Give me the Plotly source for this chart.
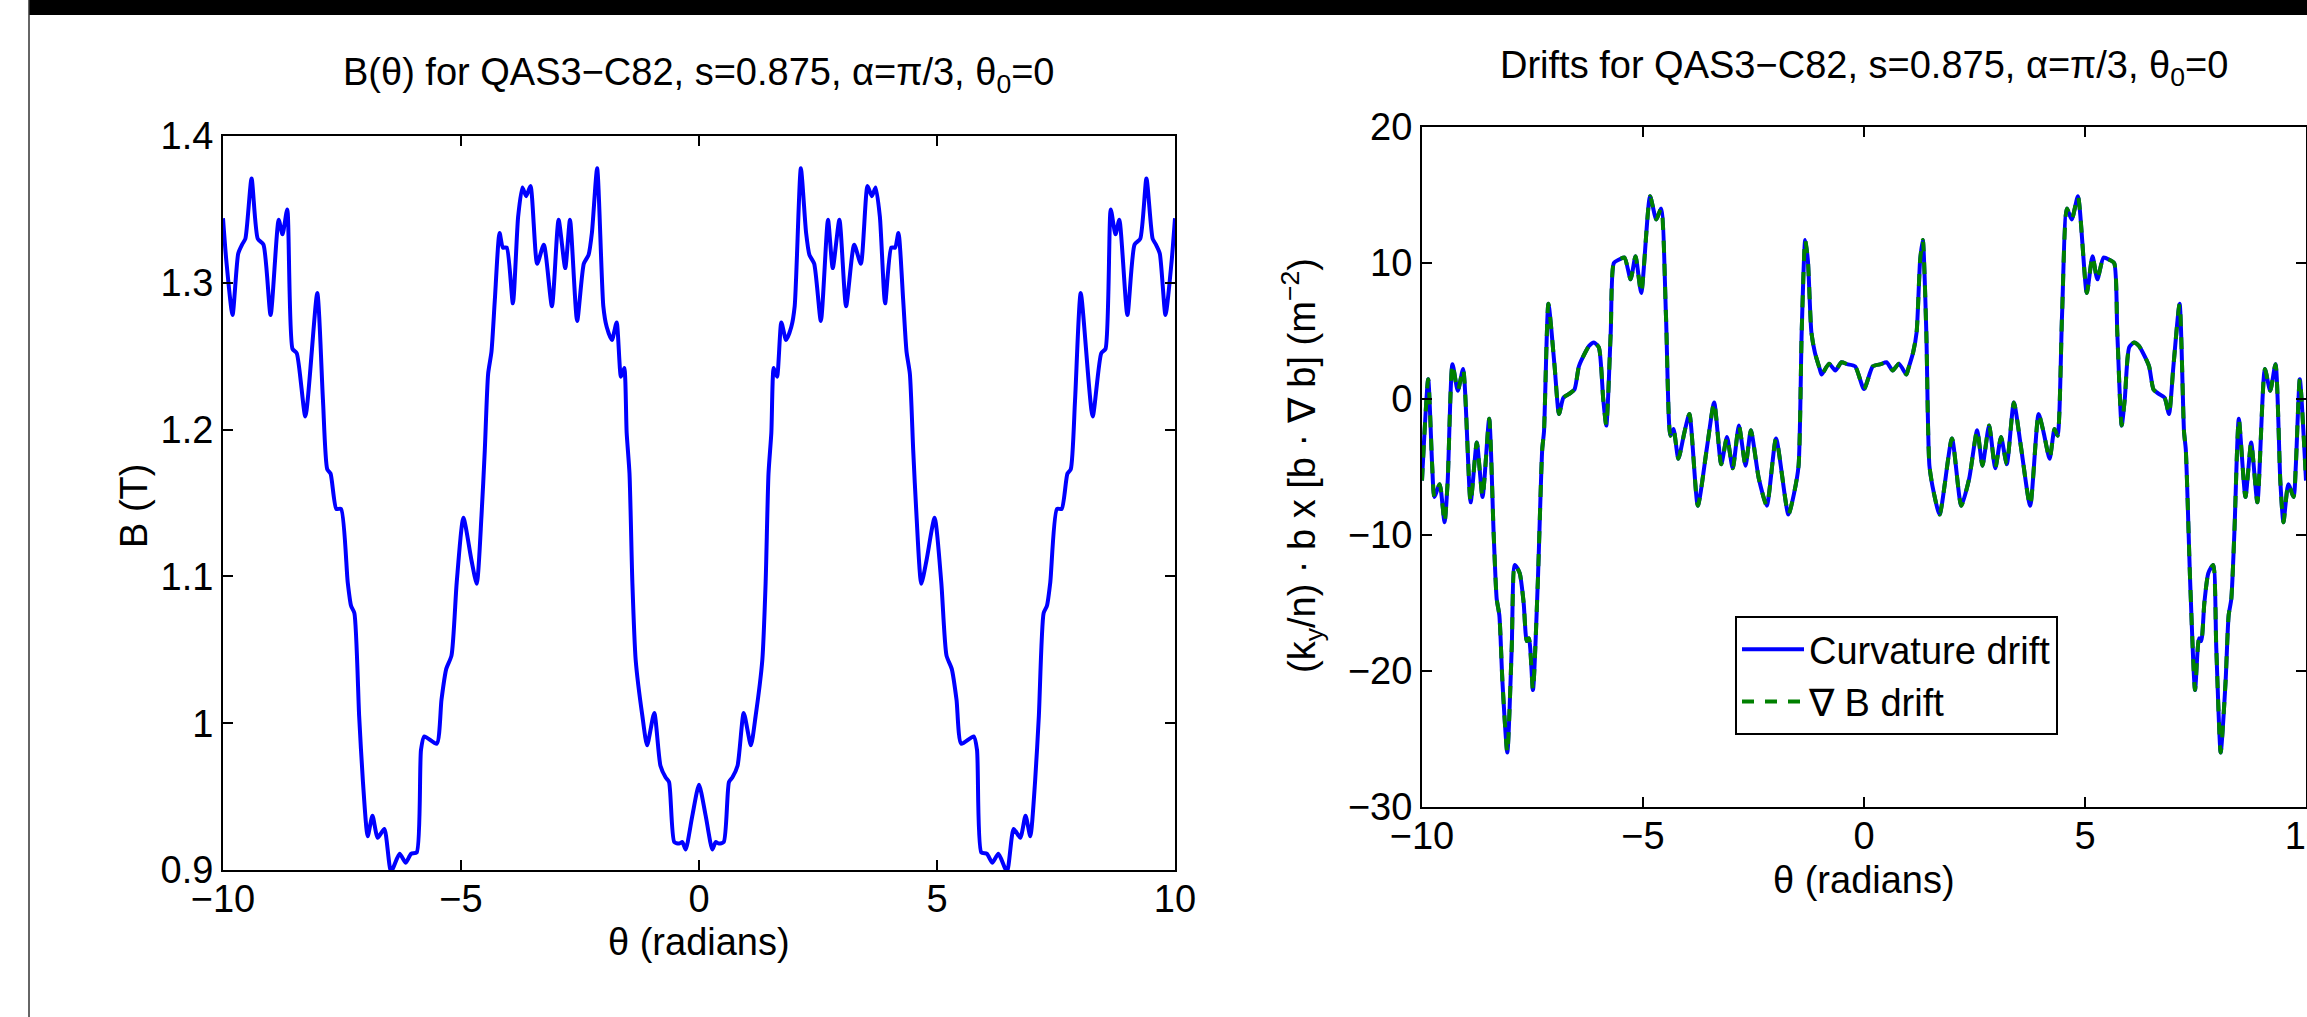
import plotly.graph_objects as go

W, H = 2307, 1017
FONT = "Liberation Sans, Arial, Helvetica, sans-serif"

# ---------------- data: B(theta) ----------------
theta_b = [-10.00, -9.93, -9.80, -9.68, -9.60, -9.53, -9.40, -9.27, -9.15, -9.00,
           -8.83, -8.75, -8.65, -8.54, -8.45, -8.27, -8.02, -7.90, -7.81, -7.74,
           -7.62, -7.52, -7.38, -7.31, -7.24, -7.14, -7.06, -6.96, -6.86, -6.75,
           -6.61, -6.47, -6.29, -6.16, -6.05, -5.93, -5.84, -5.77, -5.51, -5.41,
           -5.31, -5.20, -5.09, -4.95, -4.78, -4.67, -4.57, -4.50, -4.43, -4.36,
           -4.29, -4.19, -4.12, -4.04, -3.91, -3.80, -3.71, -3.63, -3.54, -3.40,
           -3.26, -3.09, -2.95, -2.81, -2.71, -2.56, -2.42, -2.32, -2.25, -2.14,
           -2.01, -1.94, -1.83, -1.73, -1.64, -1.57, -1.52, -1.46, -1.40, -1.33,
           -1.19, -1.09, -0.94, -0.81, -0.70, -0.63, -0.52, -0.42, -0.35, -0.28,
           -0.14, 0.00,
           0.14, 0.28, 0.35, 0.42, 0.52, 0.63, 0.70, 0.81, 0.94, 1.09,
           1.19, 1.33, 1.40, 1.46, 1.52, 1.57, 1.64, 1.73, 1.83, 1.94,
           2.01, 2.14, 2.25, 2.32, 2.42, 2.56, 2.71, 2.81, 2.95, 3.09,
           3.26, 3.40, 3.54, 3.63, 3.71, 3.80, 3.91, 4.04, 4.12, 4.19,
           4.29, 4.36, 4.43, 4.50, 4.57, 4.67, 4.78, 4.95, 5.09, 5.20,
           5.31, 5.41, 5.51, 5.77, 5.84, 5.93, 6.05, 6.16, 6.29, 6.47,
           6.61, 6.75, 6.86, 6.96, 7.06, 7.14, 7.24, 7.31, 7.38, 7.52,
           7.62, 7.74, 7.81, 7.90, 8.02, 8.27, 8.45, 8.54, 8.65, 8.75,
           8.83, 9.00, 9.15, 9.27, 9.40, 9.53, 9.60, 9.68, 9.80, 9.93, 10.00]

b_field = [1.344, 1.315, 1.278, 1.320, 1.326, 1.330, 1.371, 1.330, 1.326, 1.278,
           1.343, 1.333, 1.350, 1.255, 1.252, 1.209, 1.293, 1.220, 1.173, 1.170,
           1.146, 1.146, 1.096, 1.080, 1.075, 1.005, 0.960, 0.923, 0.937, 0.922,
           0.928, 0.899, 0.911, 0.905, 0.911, 0.912, 0.982, 0.991, 0.986, 1.016,
           1.037, 1.046, 1.096, 1.140, 1.111, 1.095, 1.141, 1.186, 1.238, 1.253,
           1.288, 1.334, 1.324, 1.324, 1.286, 1.345, 1.365, 1.359, 1.366, 1.313,
           1.326, 1.284, 1.343, 1.310, 1.343, 1.274, 1.313, 1.319, 1.334, 1.378,
           1.284, 1.270, 1.261, 1.273, 1.236, 1.242, 1.198, 1.170, 1.096, 1.043,
           1.005, 0.985, 1.007, 0.971, 0.963, 0.960, 0.919, 0.918, 0.919, 0.914,
           0.937, 0.958,
           0.937, 0.914, 0.919, 0.918, 0.919, 0.960, 0.963, 0.971, 1.007, 0.985,
           1.005, 1.043, 1.096, 1.170, 1.198, 1.242, 1.236, 1.273, 1.261, 1.270,
           1.284, 1.378, 1.334, 1.319, 1.313, 1.274, 1.343, 1.310, 1.343, 1.284,
           1.326, 1.313, 1.366, 1.359, 1.365, 1.345, 1.286, 1.324, 1.324, 1.334,
           1.288, 1.253, 1.238, 1.186, 1.141, 1.095, 1.111, 1.140, 1.096, 1.046,
           1.037, 1.016, 0.986, 0.991, 0.982, 0.912, 0.911, 0.905, 0.911, 0.899,
           0.928, 0.922, 0.937, 0.923, 0.960, 1.005, 1.075, 1.080, 1.096, 1.146,
           1.146, 1.170, 1.173, 1.220, 1.293, 1.209, 1.252, 1.255, 1.350, 1.333,
           1.343, 1.278, 1.326, 1.330, 1.371, 1.330, 1.326, 1.320, 1.278, 1.315, 1.344]

# ---------------- data: drifts ----------------
theta_d = [-10.00, -9.86, -9.77, -9.72, -9.60, -9.49, -9.42, -9.31, -9.19, -9.07,
           -8.90, -8.76, -8.63, -8.48, -8.38, -8.31, -8.25, -8.18, -8.07, -7.97,
           -7.90, -7.79, -7.70, -7.63, -7.58, -7.49, -7.38, -7.28, -7.24, -7.14,
           -7.00, -6.90, -6.80, -6.66, -6.55, -6.45, -6.31, -6.22, -6.11, -6.00,
           -5.90, -5.83, -5.73, -5.66, -5.55, -5.42, -5.28, -5.17, -5.04, -4.84,
           -4.70, -4.59, -4.48, -4.38, -4.31, -4.20, -4.06, -3.95, -3.76, -3.55,
           -3.39, -3.23, -3.10, -2.97, -2.83, -2.68, -2.56, -2.38, -2.20, -1.99,
           -1.71, -1.58, -1.48, -1.41, -1.33, -1.27, -1.19, -1.11, -1.00, -0.96,
           -0.79, -0.65, -0.51, -0.38, -0.20, 0.00,
           0.20, 0.38, 0.51, 0.65, 0.79, 0.96, 1.00, 1.11, 1.19, 1.27,
           1.33, 1.41, 1.48, 1.58, 1.71, 1.99, 2.20, 2.38, 2.56, 2.68,
           2.83, 2.97, 3.10, 3.23, 3.39, 3.55, 3.76, 3.95, 4.06, 4.20,
           4.31, 4.38, 4.48, 4.59, 4.70, 4.84, 5.04, 5.17, 5.28, 5.42,
           5.55, 5.66, 5.73, 5.83, 5.90, 6.00, 6.11, 6.22, 6.31, 6.45,
           6.55, 6.66, 6.80, 6.90, 7.00, 7.14, 7.24, 7.28, 7.38, 7.49,
           7.58, 7.63, 7.70, 7.79, 7.90, 7.97, 8.07, 8.18, 8.25, 8.31,
           8.38, 8.48, 8.63, 8.76, 8.90, 9.07, 9.19, 9.31, 9.42, 9.49,
           9.60, 9.72, 9.77, 9.86, 10.00]

curvature_drift = [-6.0, 1.46, -4.9, -7.2, -6.26, -9.07, -6.1, 2.56, 0.61, 2.2,
                   -7.6, -3.2, -7.2, -1.46, -9.8, -14.7, -15.9, -20.8, -26.0, -18.3,
                   -12.2, -12.8, -15.0, -17.8, -17.6, -21.4, -13.5, -3.7, -2.4, 7.0,
                   2.4, -1.1, 0.1, 0.4, 0.7, 2.4, 3.4, 3.9, 4.15, 3.8,
                   0.0, -1.95, 4.9, 10.0, 10.24, 10.4, 8.8, 10.5, 7.8, 14.9,
                   13.2, 14.0, 6.1, -2.7, -2.2, -4.4, -2.4, -1.1, -7.85, -3.5,
                   -0.25, -4.8, -2.8, -5.1, -1.95, -4.9, -2.3, -5.85, -7.85, -2.9,
                   -8.5, -6.9, -4.9, 4.9, 11.7, 10.2, 4.9, 3.4, 2.2, 1.8,
                   2.6, 2.1, 2.7, 2.56, 2.4, 0.73,
                   2.4, 2.56, 2.7, 2.1, 2.6, 1.8, 2.2, 3.4, 4.9, 10.2,
                   11.7, 4.9, -4.9, -6.9, -8.5, -2.9, -7.85, -5.85, -2.3, -4.9,
                   -1.95, -5.1, -2.8, -4.8, -0.25, -3.5, -7.85, -1.1, -2.4, -4.4,
                   -2.2, -2.7, 6.1, 14.0, 13.2, 14.9, 7.8, 10.5, 8.8, 10.4,
                   10.24, 10.0, 4.9, -1.95, 0.0, 3.8, 4.15, 3.9, 3.4, 2.4,
                   0.7, 0.4, 0.1, -1.1, 2.4, 7.0, -2.4, -3.7, -13.5, -21.4,
                   -17.6, -17.8, -15.0, -12.8, -12.2, -18.3, -26.0, -20.8, -15.9, -14.7,
                   -9.8, -1.46, -7.2, -3.2, -7.6, 2.2, 0.61, 2.56, -6.1, -9.07,
                   -6.26, -7.2, -4.9, 1.46, -6.0]

# the grad-B drift is indistinguishable from the curvature drift in the picture
gradb_drift = list(curvature_drift)

x_ticks = [-10, -5, 0, 5, 10]
b_ticks = [0.9, 1.0, 1.1, 1.2, 1.3, 1.4]
b_ticktext = ["0.9", "1", "1.1", "1.2", "1.3", "1.4"]
d_ticks = [-30, -20, -10, 0, 10, 20]

# ---------------- figure ----------------
fig = go.Figure()
fig.add_trace(go.Scatter(
    x=theta_b, y=b_field, mode="lines", showlegend=False,
    line=dict(color="#0000ff", width=4, shape="spline", smoothing=0.6),
    xaxis="x", yaxis="y"))
fig.add_trace(go.Scatter(
    x=theta_d, y=curvature_drift, mode="lines", name="Curvature drift",
    line=dict(color="#0000ff", width=4, shape="spline", smoothing=0.6),
    xaxis="x2", yaxis="y2"))
fig.add_trace(go.Scatter(
    x=theta_d, y=gradb_drift, mode="lines", name="\u2207 B drift",
    line=dict(color="#008000", width=4, dash="12px,11px", shape="spline", smoothing=0.6),
    xaxis="x2", yaxis="y2"))


def fx(px):
    return px / W


def fy(py):
    return 1 - py / H


axis_common = dict(
    showline=True, linecolor="black", linewidth=2, mirror="ticks",
    ticks="inside", ticklen=10, tickwidth=1.5, tickcolor="black",
    showgrid=False, zeroline=False, automargin=False,
    ticklabeloverflow="allow",
    tickfont=dict(family=FONT, size=38, color="black"),
)

fig.update_layout(
    template="none",
    width=W, height=H, autosize=False,
    margin=dict(l=0, r=0, t=0, b=0, pad=0, autoexpand=False),
    paper_bgcolor="white", plot_bgcolor="white",
    font=dict(family=FONT, size=38, color="black"),
    xaxis=dict(domain=[fx(223), fx(1175)], range=[-10, 10], tickvals=x_ticks,
               anchor="y", **axis_common),
    yaxis=dict(domain=[fy(870), fy(136)], range=[0.9, 1.4], tickvals=b_ticks,
               ticktext=b_ticktext, anchor="x", **axis_common),
    xaxis2=dict(domain=[fx(1422), fx(2306)], range=[-10, 10], tickvals=x_ticks,
                anchor="y2", **axis_common),
    yaxis2=dict(domain=[fy(807), fy(127)], range=[-30, 20], tickvals=d_ticks,
                anchor="x2", **axis_common),
    legend=dict(
        x=fx(1735), y=fy(616), xanchor="left", yanchor="top",
        bordercolor="black", borderwidth=2, bgcolor="white",
        font=dict(family=FONT, size=38, color="black"),
        itemwidth=62, tracegroupgap=0,
    ),
    showlegend=True,
)

# pull the x tick labels a little closer to the axis line, as in the reference
try:
    fig.update_xaxes(ticklabelstandoff=-6)
except ValueError:
    pass

annotations = [
    dict(text="B(\u03b8) for QAS3\u2212C82, s=0.875, \u03b1=\u03c0/3, \u03b8<sub>0</sub>=0",
         x=fx(699), y=fy(75), xanchor="center", yanchor="middle"),
    dict(text="Drifts for QAS3\u2212C82, s=0.875, \u03b1=\u03c0/3, \u03b8<sub>0</sub>=0",
         x=fx(1864), y=fy(68), xanchor="center", yanchor="middle"),
    dict(text="\u03b8 (radians)", x=fx(699), y=fy(942), xanchor="center", yanchor="middle"),
    dict(text="\u03b8 (radians)", x=fx(1864), y=fy(880), xanchor="center", yanchor="middle"),
    dict(text="B (T)", x=fx(134), y=fy(506), xanchor="center", yanchor="middle", textangle=-90),
    dict(text="(k<sub>y</sub>/n) \u00b7 b x [b \u00b7 \u2207 b] (m<sup>\u22122</sup>)",
         x=fx(1302), y=fy(466), xanchor="center", yanchor="middle", textangle=-90),
]
for a in annotations:
    a.update(xref="paper", yref="paper", showarrow=False,
             font=dict(family=FONT, size=38, color="black"))
fig.update_layout(annotations=annotations)

fig.update_layout(shapes=[
    dict(type="rect", xref="paper", yref="paper", x0=fx(29), x1=1, y0=fy(15), y1=1,
         fillcolor="black", line=dict(width=0), layer="above"),
    dict(type="line", xref="paper", yref="paper", x0=fx(29), x1=fx(29), y0=0, y1=1,
         line=dict(color="#333333", width=1.5)),
])

fig.write_html("out.html")
